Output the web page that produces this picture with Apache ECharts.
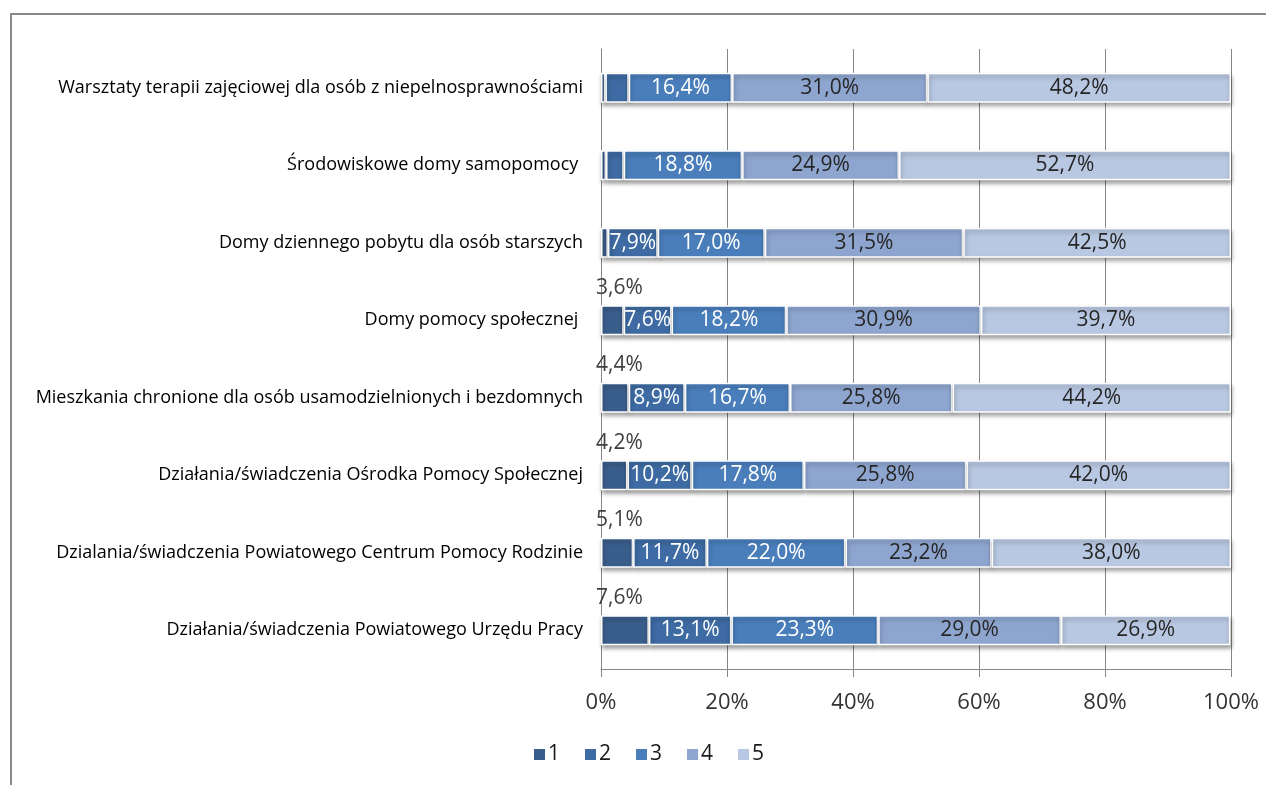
<!DOCTYPE html>
<html>
<head>
<meta charset="utf-8">
<script src="https://cdn.jsdelivr.net/npm/echarts@6/dist/echarts.min.js"></script>
<style>html,body{margin:0;padding:0;background:#fff}#c{width:1266px;height:785px}</style>
</head>
<body>
<div id="c"></div>
<script>
const categories = [
  'Warsztaty terapii zajęciowej dla osób z niepelnosprawnościami',
  'Środowiskowe domy samopomocy ',
  'Domy dziennego pobytu dla osób starszych',
  'Domy pomocy społecznej ',
  'Mieszkania chronione dla osób usamodzielnionych i bezdomnych',
  'Działania/świadczenia Ośrodka Pomocy Społecznej',
  'Dzialania/świadczenia Powiatowego Centrum Pomocy Rodzinie',
  'Działania/świadczenia Powiatowego Urzędu Pracy'
];
const seriesNames = ['1', '2', '3', '4', '5'];
const s1 = [0.7, 0.8, 1.1, 3.6, 4.4, 4.2, 5.1, 7.6];
const s2 = [3.7, 2.8, 7.9, 7.6, 8.9, 10.2, 11.7, 13.1];
const s3 = [16.4, 18.8, 17.0, 18.2, 16.7, 17.8, 22.0, 23.3];
const s4 = [31.0, 24.9, 31.5, 30.9, 25.8, 25.8, 23.2, 29.0];
const s5 = [48.2, 52.7, 42.5, 39.7, 44.2, 42.0, 38.0, 26.9];
const xTicks = [0, 20, 40, 60, 80, 100];

const colors = ['#3A5E8C', '#3E6BA3', '#4A7EBB', '#8EA6CF', '#B9C8E2'];
const labelColors = ['#404040', '#ffffff', '#ffffff', '#262626', '#262626'];
const allData = [s1, s2, s3, s4, s5];
const minShow = [3, 5, 0, 0, 0];
const fmt = v => v.toFixed(1).replace('.', ',') + '%';

const series = allData.map((arr, i) => ({
  name: seriesNames[i],
  type: 'bar',
  stack: 'total',
  barWidth: 30,
  itemStyle: {
    color: colors[i],
    borderColor: '#ffffff',
    borderWidth: 1.5,
    shadowColor: 'rgba(0,0,0,0.35)',
    shadowBlur: 4,
    shadowOffsetY: 3,
    shadowOffsetX: 1
  },
  label: i === 0 ? {
    show: true,
    position: [-5, -7],
    align: 'left',
    verticalAlign: 'bottom',
    color: labelColors[i],
    fontFamily: 'Open Sans',
    fontSize: 21,
    formatter: p => fmt(p.value)
  } : {
    show: true,
    position: 'inside',
    color: labelColors[i],
    fontFamily: 'Open Sans',
    fontSize: 21,
    formatter: p => fmt(p.value)
  },
  data: arr.map(v => ({ value: v, label: { show: v >= minShow[i] } }))
}));

const chart = echarts.init(document.getElementById('c'), null, { renderer: 'canvas' });
chart.setOption({
  animation: false,
  backgroundColor: '#ffffff',
  graphic: [{
    type: 'rect',
    shape: { x: 11, y: 14, width: 1320, height: 820 },
    style: { fill: 'none', stroke: '#8a8a8a', lineWidth: 2 },
    silent: true, z: -1
  }],
  grid: { left: 601, right: 35, top: 49, bottom: 116 },
  legend: {
    left: 527,
    top: 739,
    itemWidth: 13,
    itemHeight: 13,
    itemGap: 23,
    icon: 'rect',
    textStyle: { fontFamily: 'Open Sans', fontSize: 21, color: '#1a1a1a', padding: [0, 0, 0, -3] },
    data: seriesNames
  },
  xAxis: {
    type: 'value',
    min: 0,
    max: 100,
    interval: 20,
    axisLine: { show: true, lineStyle: { color: '#868686', width: 1 } },
    axisTick: { show: true, length: 8, lineStyle: { color: '#868686' } },
    splitLine: { show: true, lineStyle: { color: '#868686', width: 1 } },
    axisLabel: {
      margin: 23,
      fontFamily: 'Open Sans',
      fontSize: 22,
      color: '#333333',
      formatter: v => xTicks.includes(v) ? v + '%' : ''
    }
  },
  yAxis: {
    type: 'category',
    inverse: true,
    data: categories,
    axisLine: { show: true, lineStyle: { color: '#868686' } },
    axisTick: { show: false },
    axisLabel: {
      margin: 18,
      fontFamily: 'Open Sans',
      fontSize: 18,
      color: '#000000'
    }
  },
  series: series
});
</script>
</body>
</html>
